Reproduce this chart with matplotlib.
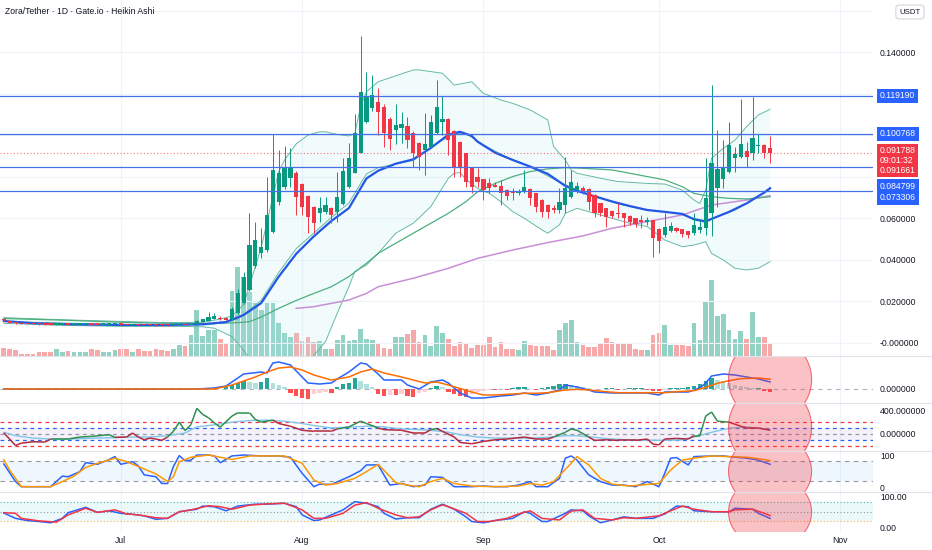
import numpy as np
import matplotlib
matplotlib.use("Agg")
import matplotlib.pyplot as plt
import matplotlib.dates as mdates
from matplotlib.patches import Ellipse
from matplotlib.lines import Line2D
from matplotlib.collections import LineCollection
from matplotlib.transforms import blended_transform_factory

plt.rcParams['font.family'] = ['Liberation Sans', 'DejaVu Sans']

# ------------------------------------------------------------------
# data (daily Heikin Ashi, Jun 11 - Oct 20)
# ------------------------------------------------------------------
dates = np.arange('2025-06-11', '2025-10-21', dtype='datetime64[D]')

ha_open = [
    .0113, .0106, .0098, .0095, .0094, .0093, .0092, .0091, .0090, .0089,
    .0089, .0090, .0089, .0089, .0090, .0091, .0090, .0089, .0089, .0090,
    .0091, .0090, .0088, .0089, .0088, .0087, .0087, .0086, .0086, .0085,
    .0086, .0088, .0087, .0090, .0101, .0108, .0117, .0122, .0119, .0115,
    .0143, .0191, .0255, .0370, .0432, .0448, .0537, .0681, .0753, .0794,
    .0821, .0765, .0710, .0657, .0625, .0633, .0649, .0630, .0670, .0750,
    .0821, .0917, .1067, .1131, .1163, .1139, .1078, .1026, .1038, .1046,
    .1014, .0965, .0930, .0946, .1010, .1067, .1078, .1023, .0970, .0914,
    .0845, .0802, .0790, .0769, .0761, .0757, .0737, .0729, .0721, .0729,
    .0741, .0721, .0689, .0665, .0649, .0641, .0665, .0705, .0737, .0745,
    .0741, .0713, .0673, .0649, .0638, .0628, .0625, .0612, .0601, .0593,
    .0585, .0593, .0549, .0520, .0541, .0556, .0549, .0540, .0528, .0545,
    .0553, .0628, .0745, .0789, .0822, .0890, .0898, .0927, .0917, .0951,
    .0956, .0941]
ha_close = [
    .0109, .0097, .0094, .0093, .0092, .0091, .0090, .0089, .0089, .0090,
    .0090, .0089, .0090, .0090, .0091, .0089, .0089, .0090, .0090, .0091,
    .0089, .0088, .0089, .0087, .0087, .0086, .0085, .0085, .0085, .0087,
    .0089, .0087, .0092, .0108, .0114, .0126, .0129, .0115, .0113, .0165,
    .0239, .0320, .0472, .0496, .0464, .0617, .0834, .0818, .0842, .0850,
    .0705, .0657, .0609, .0580, .0649, .0665, .0617, .0705, .0829, .0893,
    .1010, .1211, .1190, .1195, .1115, .1010, .0982, .1051, .1055, .0978,
    .0917, .0898, .0959, .1067, .1136, .1080, .0978, .0850, .0847, .0778,
    .0753, .0778, .0737, .0745, .0753, .0721, .0708, .0724, .0734, .0753,
    .0697, .0657, .0633, .0633, .0641, .0681, .0745, .0774, .0758, .0729,
    .0681, .0628, .0628, .0609, .0612, .0622, .0601, .0585, .0573, .0585,
    .0593, .0504, .0493, .0561, .0564, .0541, .0525, .0520, .0569, .0561,
    .0697, .0869, .0839, .0850, .0954, .0911, .0957, .0898, .0990, .0955,
    .0917, .0918]
ha_high = [
    .0116, .0107, .0099, .0096, .0095, .0094, .0093, .0092, .0091, .0091,
    .0091, .0091, .0091, .0092, .0092, .0092, .0091, .0091, .0091, .0092,
    .0092, .0091, .0090, .0090, .0089, .0088, .0088, .0087, .0087, .0088,
    .0091, .0090, .0095, .0112, .0118, .0150, .0145, .0128, .0121, .0175,
    .0260, .0340, .0625, .0585, .0553, .0802, .1006, .0930, .0949, .0938,
    .0830, .0770, .0715, .0660, .0705, .0705, .0655, .0826, .0890, .0965,
    .1102, .1480, .1308, .1292, .1227, .1150, .1090, .1152, .1115, .1091,
    .1020, .0970, .1107, .1099, .1267, .1190, .1085, .1025, .0975, .0918,
    .0848, .0842, .0792, .0794, .0777, .0785, .0740, .0745, .0740, .0834,
    .0745, .0724, .0692, .0668, .0665, .0745, .0898, .0834, .0777, .0755,
    .0745, .0716, .0676, .0652, .0641, .0676, .0628, .0615, .0604, .0617,
    .0609, .0595, .0552, .0625, .0585, .0558, .0551, .0542, .0628, .0593,
    .0890, .1243, .1027, .0978, .1067, .0946, .1176, .0970, .1187, .1007,
    .0960, .0998]
ha_low = [
    .0108, .0095, .0092, .0092, .0091, .0090, .0089, .0088, .0088, .0088,
    .0088, .0088, .0088, .0088, .0089, .0088, .0088, .0088, .0088, .0089,
    .0088, .0087, .0087, .0086, .0086, .0085, .0084, .0084, .0084, .0084,
    .0085, .0086, .0086, .0089, .0100, .0107, .0115, .0112, .0110, .0112,
    .0140, .0188, .0250, .0360, .0410, .0440, .0530, .0665, .0740, .0753,
    .0617, .0617, .0529, .0529, .0585, .0620, .0577, .0585, .0665, .0745,
    .0818, .0915, .1060, .1120, .1002, .0946, .0930, .0959, .0962, .0938,
    .0850, .0834, .0810, .0940, .1005, .1002, .0906, .0802, .0802, .0753,
    .0721, .0753, .0689, .0721, .0750, .0665, .0689, .0689, .0715, .0721,
    .0665, .0633, .0609, .0601, .0625, .0625, .0628, .0697, .0721, .0720,
    .0641, .0609, .0612, .0561, .0600, .0601, .0561, .0569, .0561, .0553,
    .0569, .0416, .0435, .0512, .0535, .0535, .0509, .0504, .0520, .0528,
    .0520, .0516, .0657, .0745, .0818, .0826, .0890, .0850, .0882, .0917,
    .0890, .0866]
volume = [
    7.7, 7.3, 6.3, 2.3, 2.3, 2.3, 4.3, 4.3, 4.3, 6.7,
    4.3, 5, 4.3, 4.3, 4.3, 6.7, 5.7, 4.3, 4.3, 5.7,
    6.7, 6.7, 4.3, 7.3, 5, 5, 7.3, 5.7, 5, 6.7,
    11, 10, 20.7, 45.7, 20, 26, 26, 17, 12, 65,
    89, 79, 64, 53, 46, 53, 53, 33, 23, 19,
    23, 15, 19, 14, 15, 7, 7, 16, 21, 15,
    16, 27, 17, 16, 12, 8, 7, 19, 19, 22,
    26, 14, 21, 10, 30, 23, 17, 10, 14, 12,
    8, 11, 11, 19, 9, 14, 7, 7, 6, 15,
    11, 10, 10, 10, 6, 26, 33, 36, 14, 11,
    9, 9, 13, 18, 14, 12, 12, 12, 7, 6,
    6, 21, 23, 31, 11, 11, 11, 10, 33, 16,
    55, 76, 40, 42, 26, 17, 25, 17, 44, 19,
    19, 13]

# overlay lines: (day index, value)
ema_k = [0, 5, 12, 20, 28, 34, 38, 41, 44, 47, 50, 53, 56, 59, 62, 64, 67, 70, 73, 76,
         78, 80, 81, 84, 87, 90, 93, 96, 98, 101, 104, 107, 110, 113, 116, 118, 120, 121,
         124, 127, 130, 131]
ema_v = [.0106, .0095, .0090, .0087, .0087, .0090, .0101, .0135, .0192, .0320, .0430, .0514,
         .0588, .0650, .0793, .0830, .0864, .0885, .0940, .1004, .1018, .0998, .0970, .0917,
         .0882, .0850, .0815, .0757, .0733, .0707, .0682, .0660, .0641, .0632, .0622, .0596,
         .0585, .0598, .0632, .0673, .0725, .0746]
basis_k = [0, 20, 30, 36, 40, 44, 47, 50, 53, 56, 59, 62, 64, 70, 74, 77, 79, 82, 86, 90,
           95, 100, 105, 110, 115, 118, 120, 125, 131]
basis_v = [.0104, .0088, .0087, .0092, .0115, .0205, .0340, .0455, .0530, .0605, .0675, .0815,
           .0845, .0880, .0960, .1010, .1010, .0955, .0895, .0850, .0775, .0715, .0670, .0640,
           .0625, .0600, .0590, .0640, .0740]
ma50_k = [0, 10, 20, 30, 36, 40, 42, 44, 47, 50, 53, 56, 59, 62, 64, 70, 76, 79, 81, 84,
          87, 90, 93, 96, 99, 104, 110, 113, 116, 118, 121, 124, 127, 131]
ma50_v = [.0118, .0110, .0100, .0094, .0094, .0098, .0103, .0125, .0167, .0205, .0239, .0271,
          .0320, .0384, .0432, .0529, .0625, .0681, .0729, .0769, .0802, .0826, .0839, .0845,
          .0842, .0834, .0802, .0786, .0753, .0721, .0705, .0697, .0694, .0705]
ma200_k = [50, 53, 56, 59, 62, 64, 70, 76, 81, 87, 93, 99, 104, 110, 116, 121, 127, 131]
ma200_v = [.0167, .0175, .0191, .0207, .0239, .0271, .0312, .0360, .0408, .0448, .0484, .0516,
           .0553, .0585, .0617, .0665, .0689, .0710]
bb_up_k = [0, 10, 20, 28, 34, 37, 39, 41, 44, 47, 48, 50, 52, 54, 55, 57, 59, 60, 61, 62,
           64, 70, 71, 75, 77, 80, 82, 85, 87, 90, 93, 94, 96, 97, 98, 102, 105, 110, 113,
           116, 118, 119, 120, 121, 123, 125, 127, 129, 131]
bb_up_v = [.0122, .0112, .0104, .0098, .0100, .0115, .0130, .0185, .0460, .0826, .0882, .0960,
           .1002, .1018, .1018, .1005, .0998, .1010, .1139, .1211, .1259, .1316, .1316, .1300,
           .1243, .1259, .1203, .1171, .1155, .1123, .1075, .0946, .0882, .0834, .0818, .0794,
           .0778, .0769, .0766, .0737, .0689, .0673, .0737, .0890, .0938, .0978, .1043, .1099,
           .1126]
bb_lo_k = [0, 10, 20, 30, 34, 36, 39, 41, 43, 46, 49, 52, 53, 55, 57, 59, 60, 62, 64, 67,
           70, 73, 76, 77, 78, 79, 81, 83, 85, 87, 89, 92, 93, 95, 96, 98, 101, 104, 107,
           110, 113, 116, 118, 120, 121, 123, 125, 127, 129, 131]
bb_lo_v = [.0095, .0085, .0080, .0080, .0078, .0071, .0031, -.0034, -.0120, -.0250, -.0280,
           -.0150, -.0060, .0006, .0143, .0271, .0344, .0376, .0432, .0529, .0577, .0657,
           .0794, .0818, .0821, .0789, .0745, .0721, .0681, .0633, .0601, .0545, .0529, .0569,
           .0625, .0649, .0625, .0601, .0577, .0561, .0496, .0464, .0472, .0488, .0432, .0400,
           .0360, .0352, .0360, .0392]
levels = [0.119190, 0.100768, 0.084799, 0.073306]
last_price = 0.091788

# MACD (units of the panel)
macd_k = [0, 33, 36, 38, 39, 41, 44, 45, 46, 47, 49, 51, 52, 54, 56, 57, 59, 61, 62, 64,
          65, 68, 69, 71, 73, 75, 76, 78, 80, 82, 85, 87, 89, 91, 93, 95, 96, 98, 100, 101,
          104, 106, 108, 110, 112, 113, 115, 117, 119, 120, 121, 123, 125, 127, 129, 131]
macd_v = [0, 0, 1, 3, 7, 15, 17, 16, 26, 27, 24, 12, 6, 5, 6, 10, 17, 26, 25, 15,
          9, 9, 4, 0, 7, 9, 6, -4, -9, -9, -7, -6, -4, -6, -4, -1, 4, 2, -1, -3,
          -4, -4, -4, -4, -6, -3, -3, -3, 1, 6, 13, 15, 14, 12, 10, 7]
sig_k = [0, 36, 39, 43, 45, 47, 49, 51, 53, 56, 59, 61, 63, 65, 68, 70, 72, 74, 76, 78,
         80, 82, 84, 87, 89, 91, 93, 96, 98, 100, 103, 105, 107, 110, 113, 115, 118, 120,
         122, 124, 126, 129, 131]
sig_v = [0, 0, 4, 12, 17, 21, 22, 19, 14, 9, 12, 17, 20, 16, 12, 9, 6, 7, 4, 0.5,
         -3, -6, -6, -5, -4.3, -4.3, -3.7, -1, -0.3, -1, -2.7, -3.7, -3.7, -3.7, -3.7, -2.7,
         -1.7, 1.7, 5.7, 8.3, 10.3, 11, 9.7]
hist = [0] * 38 + [
    2, 4, 6, 8, 7, 6, 7, 11, 6, 4,
    2, -4, -7, -9, -10, -5, -4, -3, -4, 2,
    5, 6, 11, 8, 5, 2, -5, -7, -6, -6,
    -5, -7, -8, -4, -3, 1, 3, 2, -3, -5,
    -7, -8, -5, -3, -2, -1, -1, 0, -1, 1,
    2, 2, 0, -1, 1, 2, 3, 5, 5, 4,
    3, 2, 1, 0, 0, 1, 1, -1, 0, 1,
    1, 1, -1, -2, -2, -1, 1, 1, 1, 2,
    3, 5, 8, 11, 9, 8, 6, 4, 3, 2,
    1, 1, -2, -3]

# CCI
cci_k = [0, 2, 3, 5, 7, 8, 11, 13, 15, 18, 19, 21, 22, 23, 24, 25, 26, 27, 28, 29,
         30, 31, 32, 33, 34, 35, 36, 37, 39, 40, 42, 43, 44, 46, 47, 49, 51, 53, 56, 57,
         59, 61, 62, 64, 65, 68, 70, 72, 73, 74, 75, 77, 78, 80, 82, 84, 86, 89, 91, 93,
         94, 96, 97, 98, 100, 101, 103, 105, 108, 110, 111, 112, 113, 115, 117, 118, 119,
         120, 121, 122, 124, 126, 127, 129, 131]
cci_v = [20, -197, -157, -133, -139, -87, -87, -52, -41, -12, -58, -52, 17, -52, -99, -70,
         -87, -110, -52, 46, 203, 58, 162, 441, 336, 278, 191, 116, 307, 365, 365, 249, 203,
         238, 180, 133, 64, 46, 46, 87, 122, 220, 180, 104, 75, 64, 17, 17, 75, 93, 46, -52,
         -145, -168, -128, -99, -87, -52, -87, -87, -52, 29, 87, 64, -52, -110, -99, -110,
         -110, -87, -174, -186, -87, -75, -87, -29, -29, 307, 377, 220, 203, 133, 104, 104, 64]
cci_green = [(8, 19), (28, 45), (57, 63), (73, 74), (94, 99), (118, 124)]
ccima_k = [0, 2, 5, 8, 11, 16, 22, 25, 28, 31, 33, 36, 39, 42, 45, 48, 51, 53, 56, 59,
           62, 65, 68, 71, 73, 76, 78, 81, 84, 90, 93, 96, 98, 101, 104, 107, 113, 116, 118,
           121, 124, 127, 130, 131]
ccima_v = [29, -29, -70, -87, -87, -70, -52, -52, -29, 17, 122, 157, 203, 232, 238, 220, 180,
           145, 104, 116, 133, 122, 87, 75, 64, 30, -12, -52, -70, -70, -58, -29, -29, -58,
           -87, -99, -110, -99, -52, 29, 99, 122, 87, 75]

# Stochastic
stk_k = [0, 2, 3, 5, 8, 10, 11, 13, 14, 16, 18, 19, 20, 22, 23, 24, 26, 27, 28, 29,
         30, 31, 32, 33, 35, 36, 37, 39, 41, 44, 47, 49, 51, 53, 54, 56, 59, 61, 62, 64,
         66, 68, 70, 72, 73, 75, 77, 80, 82, 84, 86, 88, 90, 91, 93, 95, 96, 97, 98, 100,
         102, 104, 106, 108, 110, 112, 113, 114, 115, 117, 118, 121, 123, 125, 127, 129, 131]
stk_v = [72, 17, 1, 1, 1, 34, 32, 48, 76, 71, 86, 95, 71, 79, 66, 38, 32, 11, 11, 64,
         98, 82, 84, 100, 100, 97, 76, 97, 100, 97, 97, 93, 43, 1, 9, 8, 32, 51, 69, 69,
         6, 11, 1, 6, 32, 30, 1, 1, 3, 1, 1, 6, 17, 1, 1, 27, 90, 97, 84, 38,
         17, 6, 6, 1, 17, 1, 43, 90, 92, 69, 95, 97, 97, 93, 90, 84, 71]
std_k = [0, 1, 3, 8, 10, 12, 14, 16, 19, 21, 23, 26, 28, 29, 30, 32, 35, 37, 39, 42,
         45, 48, 51, 53, 55, 57, 60, 62, 64, 67, 69, 71, 73, 75, 77, 80, 84, 88, 90, 92,
         94, 97, 98, 100, 102, 104, 107, 110, 112, 114, 116, 118, 121, 124, 127, 130, 131]
std_v = [85, 53, 1, 1, 17, 34, 61, 74, 90, 79, 64, 41, 17, 32, 79, 93, 100, 93, 86, 97,
         97, 97, 74, 22, 6, 11, 27, 48, 71, 14, 6, 1, 17, 27, 11, 3, 1, 3, 11, 6,
         17, 74, 95, 69, 27, 9, 3, 8, 11, 53, 84, 90, 97, 95, 93, 86, 82]

# bottom oscillator
osc_k = [0, 2, 4, 6, 8, 10, 11, 14, 16, 18, 20, 22, 24, 26, 28, 30, 31, 33, 34, 36,
         38, 40, 43, 45, 48, 50, 51, 53, 54, 56, 58, 60, 62, 64, 65, 67, 69, 71, 73, 75,
         77, 79, 80, 82, 84, 87, 89, 90, 92, 93, 96, 97, 99, 100, 102, 104, 106, 108, 111,
         113, 115, 117, 118, 121, 124, 125, 128, 129, 131]
osc_v = [46, 29, 22, 19, 15, 29, 47, 64, 48, 53, 45, 42, 37, 26, 29, 50, 53, 58, 68, 66,
         53, 68, 74, 74, 77, 66, 40, 22, 24, 40, 56, 82, 77, 66, 45, 27, 31, 31, 58, 74,
         58, 34, 19, 15, 22, 29, 50, 45, 19, 19, 45, 56, 53, 37, 15, 24, 34, 29, 29,
         43, 68, 66, 53, 50, 50, 61, 58, 45, 29]
oscma_k = [0, 2, 3, 6, 9, 11, 14, 16, 19, 21, 23, 26, 28, 30, 32, 35, 37, 39, 42, 45,
           48, 51, 53, 55, 58, 60, 62, 64, 67, 69, 71, 73, 75, 76, 79, 81, 83, 86, 88, 90,
           92, 95, 97, 99, 101, 104, 106, 108, 112, 114, 116, 118, 121, 124, 125, 128, 130, 131]
oscma_v = [47, 45, 29, 21, 17, 40, 61, 48, 56, 43, 40, 31, 29, 50, 56, 69, 66, 58, 71, 75,
           77, 56, 29, 29, 45, 71, 79, 61, 40, 31, 34, 56, 72, 66, 45, 19, 19, 29, 43, 53,
           29, 24, 52, 56, 29, 24, 31, 29, 37, 53, 68, 58, 50, 50, 56, 58, 45, 38]

# ------------------------------------------------------------------
W, H = 932, 550
UP, DN = '#089981', '#f23645'
xd = mdates.date2num(dates)
o = np.array(ha_open); c = np.array(ha_close)
up = c >= o


def xs(ks):
    return xd[np.array(ks)]


def box(top, bottom):
    return [0, 1 - bottom / H, 873 / W, (bottom - top) / H]


fig = plt.figure(figsize=(W / 100, H / 100), dpi=100)
fig.patch.set_facecolor('white')

ax = fig.add_axes(box(0, 356))
ax_vol = ax.twinx()
ax.set_zorder(ax_vol.get_zorder() + 1)
ax.patch.set_visible(False)
ax_m = fig.add_axes(box(356, 403), sharex=ax)
ax_c = fig.add_axes(box(403, 451), sharex=ax)
ax_s = fig.add_axes(box(451, 492), sharex=ax)
ax_r = fig.add_axes(box(492, 532), sharex=ax)
panels = [ax, ax_m, ax_c, ax_s, ax_r]

# --- volume
ax_vol.bar(xd, volume, width=0.8, color=np.where(up, '#92d2c5', '#f7a8a8'), zorder=1)
ax_vol.set_ylim(0, 356)
ax_vol.set_yticks([])
for s in ax_vol.spines.values():
    s.set_visible(False)

# --- main panel
for v in np.arange(0, 0.17, 0.02):
    ax.axhline(v, color='#f0f3fa', lw=0.8, zorder=0)
ax.fill(np.concatenate([xs(bb_up_k), xs(bb_lo_k)[::-1]]),
        np.concatenate([bb_up_v, bb_lo_v[::-1]]), color='#b2ebf2', alpha=0.18, lw=0, zorder=1)
ax.plot(xs(bb_up_k), bb_up_v, color='#66b9a2', lw=0.7, zorder=2)
ax.plot(xs(bb_lo_k), bb_lo_v, color='#66b9a2', lw=0.7, zorder=2)
ax.plot(xs(basis_k), basis_v, color='#66b9a2', lw=0.7, zorder=2)
ax.plot(xs(ma200_k), ma200_v, color='#c88fd6', lw=1.1, zorder=2)
ax.plot(xs(ma50_k), ma50_v, color='#4caf7d', lw=0.9, zorder=2)
ax.plot(xs(ema_k), ema_v, color='#2457e6', lw=1.6, zorder=3)

cols = np.where(up, UP, DN)
ax.vlines(xd, ha_low, ha_high, colors=cols, lw=0.7, zorder=4)
body = np.maximum(np.abs(c - o), 0.0005)
ax.bar(xd, body, bottom=np.minimum(o, c), width=0.72, color=cols, zorder=5)

for lv in levels:
    ax.axhline(lv, color='#4470e8', lw=0.9, zorder=6)
ax.axhline(last_price, color=DN, lw=0.8, ls=(0, (1, 2)), alpha=0.7, zorder=6)

ax.set_ylim(-0.00627, 0.1653)
ax.yaxis.tick_right()
ax.set_yticks([0, 0.02, 0.04, 0.06, 0.14])
ax.set_yticklabels(['-0.000000', '0.020000', '0.040000', '0.060000', '0.140000'])

tr = blended_transform_factory(ax.transAxes, ax.transData)


def tag(v, text, color, dy=0, ls=1.0):
    ax.annotate(text, xy=(1, v), xycoords=tr, xytext=(7, dy), textcoords='offset pixels',
                ha='left', va='center', fontsize=6.2, color='white', linespacing=ls,
                bbox=dict(boxstyle='square,pad=0.3', fc=color, ec='none'),
                annotation_clip=False, zorder=10)


tag(levels[0], '0.119190', '#2962ff')
tag(levels[1], '0.100768', '#2962ff')
tag(last_price, '0.091788\n09:01:32\n0.091661', DN, dy=-8, ls=1.12)
tag(levels[2], '0.084799', '#2962ff', dy=-19)
tag(levels[3], '0.073306', '#2962ff', dy=-6.6)

# --- MACD
hcol = []
for i, h in enumerate(hist):
    prev = hist[i - 1] if i else 0
    if h >= 0:
        hcol.append('#26a69a' if h >= prev else '#b2dfdb')
    else:
        hcol.append('#ff5252' if h <= prev else '#ffcdd2')
ax_m.bar(xd, hist, width=0.75, color=hcol, zorder=2)
ax_m.axhline(0, color='#b2b5be', lw=0.8, ls=(0, (4, 4)), zorder=1)
ax_m.plot(xs(macd_k), macd_v, color='#2962ff', lw=1.1, zorder=3)
ax_m.plot(xs(sig_k), sig_v, color='#ff6d00', lw=1.1, zorder=3)
ax_m.set_ylim(-14, 33)
ax_m.set_yticks([0])
ax_m.set_yticklabels(['0.000000'])

# --- CCI
ax_c.axhspan(-100, 100, color='#7e57c2', alpha=0.08, lw=0)
for lv, cl in [(200, DN), (100, '#2962ff'), (0, '#9598a1'), (-100, '#2962ff'), (-200, DN)]:
    ax_c.axhline(lv, color=cl, lw=0.9, ls=(0, (3, 3)))
ax_c.plot(xs(ccima_k), ccima_v, color='#7fc6ea', lw=1.0)
pts = np.column_stack([xs(cci_k), cci_v])
segs = [pts[i:i + 2] for i in range(len(pts) - 1)]
scol = ['#2e8f4f' if any(a <= cci_k[i] < b for a, b in cci_green) else '#b5283b'
        for i in range(len(segs))]
ax_c.add_collection(LineCollection(segs, colors=scol, linewidths=1.1))
ax_c.set_ylim(-292, 532)
ax_c.set_yticks([0, 400])
ax_c.set_yticklabels(['0.000000', '400.000000'])

# --- Stochastic
ax_s.axhspan(20, 80, color='#2196f3', alpha=0.07, lw=0)
for lv in (80, 20):
    ax_s.axhline(lv, color='#9598a1', lw=0.8, ls=(0, (4, 4)))
ax_s.plot(xs(stk_k), stk_v, color='#2962ff', lw=1.1)
ax_s.plot(xs(std_k), std_v, color='#ff9800', lw=1.1)
ax_s.set_ylim(-15.6, 112.5)
ax_s.set_yticks([0, 100])
ax_s.set_yticklabels(['0', '100'])

# --- bottom oscillator
ax_r.axhspan(20, 80, color='#00bcd4', alpha=0.08, lw=0)
ax_r.axhline(80, color='#4db6ac', lw=0.8, ls=(0, (1, 2)))
ax_r.axhline(50, color='#9598a1', lw=0.8, ls=(0, (1, 2)))
ax_r.axhline(20, color='#f5b041', lw=0.8, ls=(0, (1, 2)))
ax_r.plot(xs(osc_k), osc_v, color='#2962ff', lw=1.1)
ax_r.plot(xs(oscma_k), oscma_v, color='#f23645', lw=1.1)
ax_r.set_ylim(-14.3, 112.7)
ax_r.set_yticks([0, 100])
ax_r.set_yticklabels(['0.00', '100.00'])

# --- highlighted region (pink ovals)
for a in panels[1:]:
    t = blended_transform_factory(a.transData, a.transAxes)
    a.add_patch(Ellipse((xd[131], 0.5), width=14.2, height=1.8, transform=t,
                        fc=(0.95, 0.21, 0.27, 0.3), ec=(0.95, 0.21, 0.27, 0.7),
                        lw=0.8, zorder=8))

# --- common axis styling
ax.set_xlim(xd[0] - 0.65, xd[0] + 148.6)
ax_r.xaxis.set_major_locator(mdates.MonthLocator())
ax_r.xaxis.set_major_formatter(mdates.DateFormatter('%b'))
for a in panels:
    for s in a.spines.values():
        s.set_visible(False)
    a.yaxis.tick_right()
    a.tick_params(axis='y', length=0, pad=5, labelsize=6.2, labelcolor='#131722')
    a.tick_params(axis='x', length=0, pad=3, labelsize=6.2, labelcolor='#131722')
    a.grid(axis='x', color='#f0f3fa', lw=0.8)
    a.set_axisbelow(True)
    if a is not ax_r:
        a.tick_params(axis='x', labelbottom=False)

for y in (356, 403, 451, 492):
    fig.add_artist(Line2D([0, 1], [1 - y / H] * 2, color='#e0e3eb', lw=0.8,
                          transform=fig.transFigure))

fig.text(5 / W, 1 - 11 / H, 'Zora/Tether · 1D · Gate.io · Heikin Ashi',
         fontsize=6.2, color='#131722', va='center')
fig.text(910 / W, 1 - 12 / H, 'USDT', fontsize=5.6, color='#131722', ha='center',
         va='center', bbox=dict(boxstyle='round,pad=0.45', fc='white', ec='#d1d4dc', lw=0.8))

fig.savefig('out.png', dpi=100, facecolor='white')
